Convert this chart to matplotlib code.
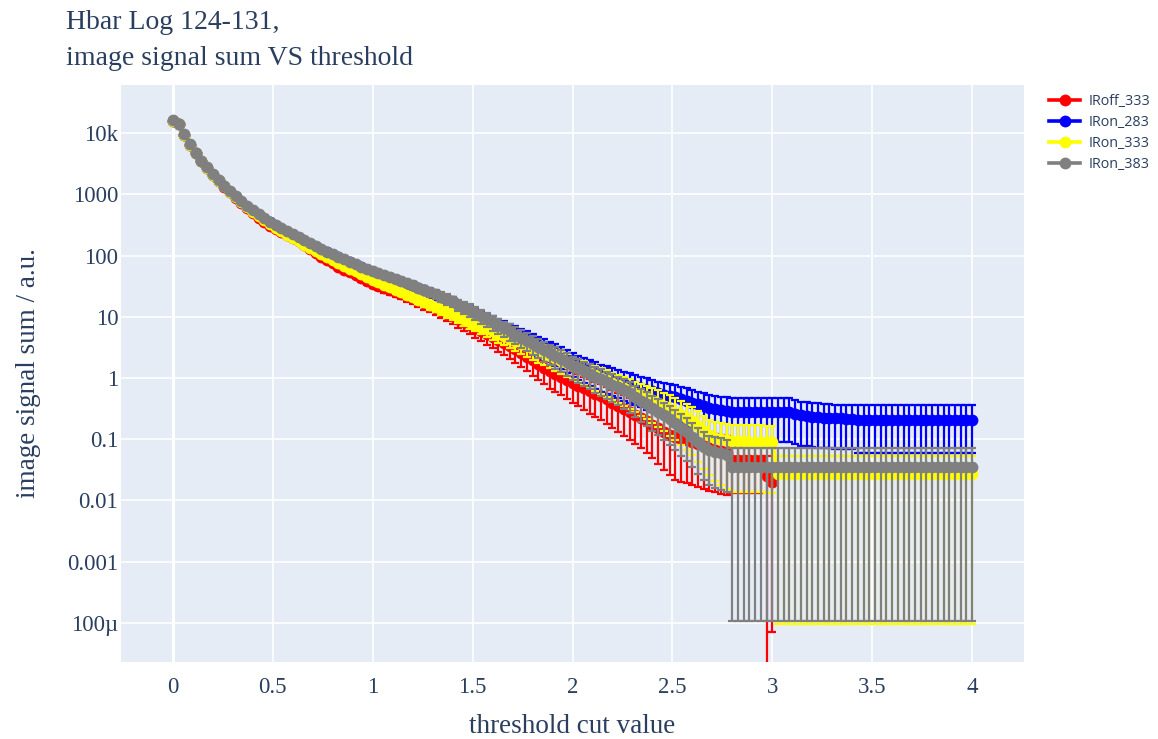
import matplotlib
matplotlib.use("Agg")
import matplotlib.pyplot as plt
import numpy as np

# threshold cut values (evenly spaced grid, 0 .. 4)
thresholds = np.linspace(0, 4, 141)

labels = ["IRoff_333", "IRon_283", "IRon_333", "IRon_383"]
colors = ["#ff0000", "#0000ff", "#ffff00", "#808080"]

iroff_333 = [
    15800, 13800, 9330, 6460, 4680, 3470, 2690, 2090, 1620, 1320,
    1070, 871, 724, 603, 501, 417, 355, 302, 269, 240,
    214, 195, 170, 148, 129, 110, 93.3, 83.2, 74.1, 66.1,
    58.9, 53.1, 47.9, 43.2, 38.9, 34.7, 31.6, 29.5, 27.2, 25.1,
    23.4, 21.6, 20.0, 18.2, 16.6, 15.1, 13.8, 12.6, 11.2, 10.2,
    9.12, 8.32, 7.41, 6.61, 5.89, 5.25, 4.68, 4.17, 3.72, 3.31,
    2.95, 2.57, 2.24, 1.95, 1.70, 1.48, 1.29, 1.15, 1.05, 0.933,
    0.832, 0.750, 0.676, 0.610, 0.550, 0.501, 0.447, 0.398, 0.355, 0.316,
    0.282, 0.251, 0.224, 0.200, 0.174, 0.151, 0.132, 0.117, 0.107, 0.100,
    0.0955, 0.0891, 0.0832, 0.0776, 0.0724, 0.0676, 0.0646, 0.0617, 0.045, 0.045,
    0.045, 0.045, 0.045, 0.045, 0.0251, 0.0200,
]
iron_283 = [
    15800, 13800, 9330, 6460, 4680, 3470, 2690, 2090, 1660, 1350,
    1100, 912, 759, 631, 537, 457, 398, 347, 309, 275,
    245, 219, 195, 174, 155, 138, 123, 112, 102, 93.3,
    85.1, 77.6, 70.8, 64.6, 58.9, 53.7, 50.1, 46.8, 43.2, 39.8,
    37.2, 34.3, 31.6, 29.2, 26.9, 24.5, 22.6, 20.9, 19.1, 17.4,
    15.1, 13.8, 12.6, 11.2, 10.0, 8.91, 8.04, 7.24, 6.53, 5.89,
    5.37, 4.79, 4.32, 3.89, 3.51, 3.16, 2.85, 2.57, 2.29, 2.02,
    1.78, 1.62, 1.48, 1.35, 1.23, 1.12, 1.05, 0.977, 0.912, 0.851,
    0.794, 0.741, 0.692, 0.646, 0.603, 0.562, 0.537, 0.513, 0.490, 0.457,
    0.427, 0.398, 0.372, 0.347, 0.324, 0.309, 0.295, 0.288, 0.282, 0.282,
    0.282, 0.282, 0.282, 0.282, 0.282, 0.282, 0.282, 0.282, 0.282, 0.263,
    0.245, 0.240, 0.234, 0.229, 0.224, 0.224, 0.219, 0.219, 0.214, 0.214,
    0.209, 0.209, 0.209, 0.209, 0.209, 0.209, 0.209, 0.209, 0.209, 0.209,
    0.209, 0.209, 0.209, 0.209, 0.209, 0.209, 0.209, 0.209, 0.209, 0.209,
    0.209,
]
iron_333 = [
    15800, 13800, 9330, 6460, 4680, 3470, 2690, 2090, 1660, 1350,
    1070, 891, 741, 617, 513, 437, 380, 331, 282, 251,
    219, 195, 174, 151, 135, 120, 105, 95.5, 85.1, 75.9,
    67.6, 60.3, 55.0, 49.0, 44.7, 39.8, 36.3, 33.1, 30.2, 27.5,
    25.1, 22.9, 20.9, 19.1, 17.4, 15.8, 14.5, 13.2, 12.0, 11.0,
    10.0, 9.12, 8.32, 7.59, 6.92, 6.31, 5.75, 5.25, 4.79, 4.37,
    3.98, 3.63, 3.31, 3.02, 2.75, 2.51, 2.29, 2.09, 1.91, 1.74,
    1.58, 1.45, 1.32, 1.20, 1.10, 1.00, 0.912, 0.832, 0.759, 0.692,
    0.631, 0.575, 0.525, 0.479, 0.437, 0.398, 0.355, 0.316, 0.282, 0.251,
    0.224, 0.195, 0.166, 0.138, 0.117, 0.105, 0.100, 0.0955, 0.0933, 0.0933,
    0.0933, 0.0912, 0.0912, 0.0912, 0.0891, 0.0891, 0.027, 0.027, 0.027, 0.027,
    0.027, 0.027, 0.027, 0.027, 0.027, 0.027, 0.027, 0.027, 0.027, 0.027,
    0.027, 0.027, 0.027, 0.027, 0.027, 0.027, 0.027, 0.027, 0.027, 0.027,
    0.027, 0.027, 0.027, 0.027, 0.027, 0.027, 0.027, 0.027, 0.027, 0.027,
    0.027,
]
iron_383 = [
    16200, 14100, 9550, 6610, 4790, 3550, 2750, 2140, 1700, 1380,
    1120, 933, 776, 646, 550, 468, 407, 355, 316, 282,
    251, 224, 200, 178, 158, 141, 126, 115, 105, 95.5,
    87.1, 79.4, 72.4, 66.1, 60.3, 55.0, 51.3, 47.9, 44.2, 40.7,
    38.0, 35.1, 32.4, 29.9, 27.5, 25.1, 23.2, 21.4, 19.5, 17.8,
    15.5, 14.1, 12.9, 11.5, 10.2, 9.12, 8.13, 7.24, 6.46, 5.75,
    5.13, 4.57, 4.07, 3.63, 3.24, 2.88, 2.57, 2.29, 2.04, 1.80,
    1.58, 1.43, 1.29, 1.16, 1.05, 0.955, 0.861, 0.776, 0.700, 0.631,
    0.562, 0.490, 0.427, 0.372, 0.324, 0.282, 0.245, 0.214, 0.182, 0.155,
    0.132, 0.110, 0.0912, 0.0759, 0.0661, 0.0617, 0.0589, 0.0550, 0.0355, 0.0355,
    0.0355, 0.0355, 0.0355, 0.0355, 0.0355, 0.0355, 0.0355, 0.0355, 0.0355, 0.0355,
    0.0355, 0.0355, 0.0355, 0.0355, 0.0355, 0.0355, 0.0355, 0.0355, 0.0355, 0.0355,
    0.0355, 0.0355, 0.0355, 0.0355, 0.0355, 0.0355, 0.0355, 0.0355, 0.0355, 0.0355,
    0.0355, 0.0355, 0.0355, 0.0355, 0.0355, 0.0355, 0.0355, 0.0355, 0.0355, 0.0355,
    0.0355,
]

# relative (symmetric) error of each point, err = value * rel
iroff_333_rel = [
    0.01, 0.01, 0.01, 0.01, 0.01, 0.01, 0.01, 0.01, 0.01, 0.01,
    0.02, 0.02, 0.03, 0.03, 0.03, 0.04, 0.04, 0.04, 0.05, 0.05,
    0.05, 0.06, 0.06, 0.06, 0.07, 0.07, 0.07, 0.08, 0.08, 0.08,
    0.10, 0.11, 0.12, 0.13, 0.14, 0.15, 0.15, 0.16, 0.17, 0.17,
    0.18, 0.19, 0.20, 0.21, 0.22, 0.22, 0.23, 0.24, 0.25, 0.26,
    0.28, 0.29, 0.30, 0.31, 0.32, 0.33, 0.34, 0.36, 0.37, 0.38,
    0.40, 0.41, 0.42, 0.44, 0.45, 0.46, 0.48, 0.49, 0.50, 0.52,
    0.53, 0.54, 0.55, 0.57, 0.58, 0.59, 0.60, 0.62, 0.63, 0.64,
    0.65, 0.67, 0.68, 0.70, 0.72, 0.74, 0.76, 0.78, 0.80, 0.80,
    0.80, 0.80, 0.80, 0.80, 0.80, 0.80, 0.80, 0.80, 0.70, 0.70,
    0.70, 0.70, 0.70, 0.70, 1.10, 0.9965,
]
iron_283_rel = [
    0.01, 0.01, 0.01, 0.01, 0.01, 0.01, 0.01, 0.01, 0.01, 0.01,
    0.02, 0.02, 0.03, 0.03, 0.03, 0.04, 0.04, 0.04, 0.05, 0.05,
    0.05, 0.06, 0.06, 0.06, 0.07, 0.07, 0.07, 0.08, 0.08, 0.08,
    0.09, 0.09, 0.10, 0.10, 0.11, 0.11, 0.12, 0.12, 0.13, 0.13,
    0.14, 0.14, 0.15, 0.15, 0.16, 0.17, 0.17, 0.18, 0.19, 0.20,
    0.21, 0.22, 0.23, 0.24, 0.25, 0.26, 0.27, 0.28, 0.29, 0.30,
    0.31, 0.32, 0.33, 0.34, 0.35, 0.36, 0.37, 0.38, 0.39, 0.40,
    0.42, 0.43, 0.44, 0.45, 0.46, 0.47, 0.48, 0.48, 0.49, 0.50,
    0.50, 0.51, 0.52, 0.53, 0.54, 0.55, 0.56, 0.57, 0.57, 0.58,
    0.59, 0.60, 0.61, 0.62, 0.63, 0.64, 0.66, 0.67, 0.68, 0.68,
    0.68, 0.68, 0.68, 0.68, 0.68, 0.68, 0.68, 0.68, 0.68, 0.68,
    0.68, 0.68, 0.68, 0.68, 0.68, 0.68, 0.68, 0.68, 0.68, 0.68,
    0.71, 0.71, 0.71, 0.71, 0.71, 0.71, 0.71, 0.71, 0.71, 0.71,
    0.71, 0.71, 0.71, 0.71, 0.71, 0.71, 0.71, 0.71, 0.71, 0.71,
    0.71,
]
iron_333_rel = [
    0.01, 0.01, 0.01, 0.01, 0.01, 0.01, 0.01, 0.01, 0.01, 0.01,
    0.02, 0.02, 0.03, 0.03, 0.03, 0.04, 0.04, 0.04, 0.05, 0.05,
    0.05, 0.06, 0.06, 0.06, 0.07, 0.07, 0.07, 0.08, 0.08, 0.08,
    0.09, 0.09, 0.10, 0.10, 0.11, 0.11, 0.12, 0.12, 0.13, 0.13,
    0.14, 0.14, 0.15, 0.15, 0.16, 0.17, 0.17, 0.18, 0.19, 0.20,
    0.21, 0.22, 0.23, 0.24, 0.25, 0.26, 0.27, 0.28, 0.29, 0.30,
    0.31, 0.32, 0.33, 0.34, 0.35, 0.36, 0.37, 0.38, 0.39, 0.40,
    0.40, 0.41, 0.42, 0.43, 0.44, 0.45, 0.46, 0.47, 0.48, 0.49,
    0.50, 0.52, 0.54, 0.56, 0.58, 0.60, 0.62, 0.64, 0.66, 0.68,
    0.70, 0.72, 0.74, 0.76, 0.78, 0.80, 0.82, 0.84, 0.85, 0.85,
    0.85, 0.85, 0.85, 0.85, 0.85, 0.85, 0.9965, 0.9965, 0.9965, 0.9965,
    0.9965, 0.9965, 0.9965, 0.9965, 0.9965, 0.9965, 0.9965, 0.9965, 0.9965, 0.9965,
    0.9965, 0.9965, 0.9965, 0.9965, 0.9965, 0.9965, 0.9965, 0.9965, 0.9965, 0.9965,
    0.9965, 0.9965, 0.9965, 0.9965, 0.9965, 0.9965, 0.9965, 0.9965, 0.9965, 0.9965,
    0.9965,
]
iron_383_rel = [
    0.01, 0.01, 0.01, 0.01, 0.01, 0.01, 0.01, 0.01, 0.01, 0.01,
    0.02, 0.02, 0.03, 0.03, 0.03, 0.04, 0.04, 0.04, 0.05, 0.05,
    0.05, 0.06, 0.06, 0.06, 0.07, 0.07, 0.07, 0.08, 0.08, 0.08,
    0.09, 0.09, 0.10, 0.10, 0.11, 0.11, 0.12, 0.12, 0.13, 0.13,
    0.14, 0.14, 0.15, 0.15, 0.16, 0.17, 0.17, 0.18, 0.19, 0.20,
    0.21, 0.22, 0.23, 0.24, 0.25, 0.26, 0.27, 0.28, 0.29, 0.30,
    0.31, 0.32, 0.33, 0.34, 0.35, 0.36, 0.37, 0.38, 0.39, 0.40,
    0.41, 0.42, 0.43, 0.44, 0.45, 0.46, 0.47, 0.48, 0.49, 0.50,
    0.52, 0.53, 0.55, 0.56, 0.58, 0.59, 0.61, 0.62, 0.64, 0.65,
    0.66, 0.68, 0.70, 0.72, 0.73, 0.74, 0.75, 0.75, 0.997, 0.997,
    0.997, 0.997, 0.997, 0.997, 0.997, 0.997, 0.997, 0.997, 0.997, 0.997,
    0.997, 0.997, 0.997, 0.997, 0.997, 0.997, 0.997, 0.997, 0.997, 0.997,
    0.997, 0.997, 0.997, 0.997, 0.997, 0.997, 0.997, 0.997, 0.997, 0.997,
    0.997, 0.997, 0.997, 0.997, 0.997, 0.997, 0.997, 0.997, 0.997, 0.997,
    0.997,
]

series = [iroff_333, iron_283, iron_333, iron_383]
rel_errors = [iroff_333_rel, iron_283_rel, iron_333_rel, iron_383_rel]

ytick_vals = [1e-4, 1e-3, 1e-2, 1e-1, 1, 10, 100, 1000, 1e4]
ytick_labels = ["100µ", "0.001", "0.01", "0.1", "1", "10", "100", "1000", "10k"]
xtick_vals = [0, 0.5, 1, 1.5, 2, 2.5, 3, 3.5, 4]
xtick_labels = ["0", "0.5", "1", "1.5", "2", "2.5", "3", "3.5", "4"]

text_color = "#2a3f5f"
serif = ["Liberation Serif", "DejaVu Serif"]

W, H = 1158, 739
fig = plt.figure(figsize=(W / 100, H / 100), dpi=100)
ax = fig.add_axes([121 / W, 1 - 662 / H, (1024 - 121) / W, (662 - 85) / H])
ax.set_facecolor("#e5ecf6")
ax.set_yscale("log")

for k, (vals, rel, col, lab) in enumerate(zip(series, rel_errors, colors, labels)):
    y = np.array(vals, dtype=float)
    x = thresholds[: len(y)]
    err = y * np.array(rel)
    lo = y - err
    # below zero the bar runs off the bottom of the log axis
    lo = np.where(lo <= 0, 1e-12, lo)
    z = 3 + 2 * k
    ax.errorbar(x, y, yerr=[y - lo, err], fmt="none", ecolor=col,
                elinewidth=1.6, capsize=3.2, capthick=1.6, zorder=z)
    ax.plot(x, y, "-o", color=col, lw=2.6, markersize=8.5,
            markeredgewidth=0, label=lab, zorder=z + 1)

ax.set_xlim(-0.26, 4.26)
ax.set_ylim(10 ** -4.637, 10 ** 4.784)
ax.set_yticks(ytick_vals)
ax.set_yticklabels(ytick_labels)
ax.set_xticks(xtick_vals)
ax.set_xticklabels(xtick_labels)
ax.yaxis.set_minor_locator(matplotlib.ticker.NullLocator())
ax.tick_params(length=0, labelsize=16.5, labelcolor=text_color)
ax.tick_params(axis="x", pad=11)
ax.tick_params(axis="y", pad=2)
for lbl in ax.get_xticklabels() + ax.get_yticklabels():
    lbl.set_family(serif)

ax.grid(True, color="white", linewidth=1.2)
ax.axvline(0, color="white", linewidth=2.2, zorder=1)
ax.set_axisbelow(True)
for sp in ax.spines.values():
    sp.set_visible(False)

ax.set_xlabel("threshold cut value", fontsize=19.5, color=text_color,
              family=serif, labelpad=11)
ax.set_ylabel("image signal sum / a.u.", fontsize=19.5, color=text_color,
              family=serif, labelpad=19)

# two-line title, placed by baseline
fig.text(66 / W, 1 - 29 / H, "Hbar Log 124-131,", fontsize=20,
         color=text_color, family=serif, va="baseline", ha="left")
fig.text(66 / W, 1 - 65 / H, "image signal sum VS threshold", fontsize=20,
         color=text_color, family=serif, va="baseline", ha="left")

fig.legend(loc="upper left", bbox_to_anchor=(1049 / W, 1 - 94 / H),
           frameon=False, borderaxespad=0, borderpad=0,
           handlelength=2.2, handletextpad=0.55,
           labelspacing=0.42, labelcolor=text_color,
           prop={"family": ["Open Sans", "DejaVu Sans"], "size": 10.3})

fig.savefig("out.png", dpi=100)
